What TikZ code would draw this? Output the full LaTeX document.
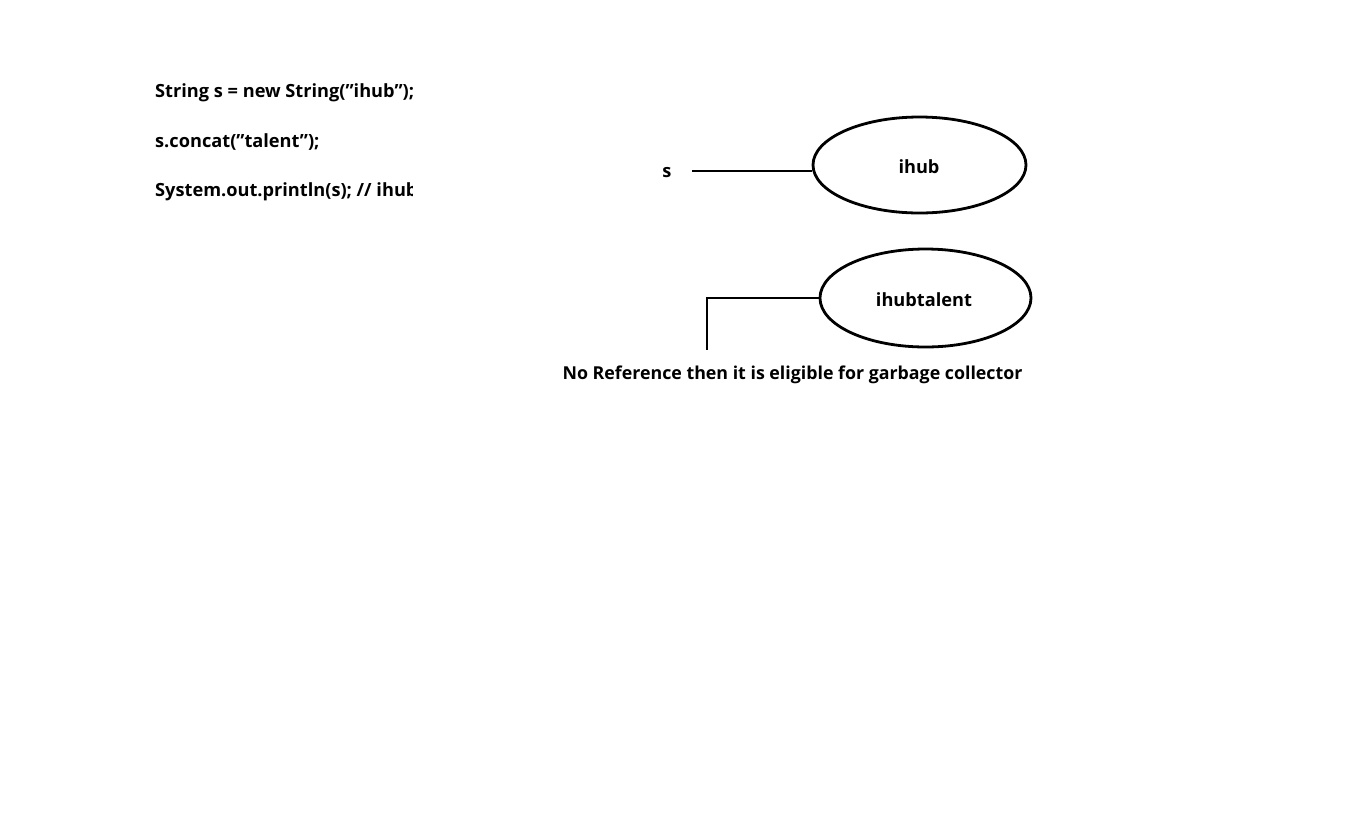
\documentclass[tikz,border=0pt]{standalone}
\usepackage{fontspec}
\setmainfont{Open Sans}
\usetikzlibrary{shapes.geometric}
\begin{document}
\begin{tikzpicture}[x=1pt,y=-1pt,
  txt/.style={font=\fontsize{18.2}{21}\selectfont\bfseries, inner sep=0pt},
  obj/.style={draw, line width=2.8pt, ellipse, inner sep=0pt},
  wire/.style={line width=2.8pt}]
\useasboundingbox[fill=white] (0,0) rectangle (1358,831);
\node[txt, anchor=west] (c1) at (155,93) {String s = new String(\symbol{34}ihub\symbol{34});};
\node[txt, anchor=west] (c2) at (155,142) {s.concat(\symbol{34}talent\symbol{34});};
\begin{scope}
\clip (150,170) rectangle (412,212);
\node[txt, anchor=west] (c3) at (155,192) {System.out.println(s); // ihub};
\end{scope}
\node[obj, minimum width=213, minimum height=96] (e1) at (919.5,165) {};
\node[txt] (t1) at (919,167) {ihub};
\node[obj, minimum width=211, minimum height=98] (e2) at (925.5,298) {};
\node[txt] (t2) at (924,300) {ihubtalent};
\node[txt] (s) at (667,173) {s};
\coordinate (sstart) at (692,171);
\draw[wire] (sstart) -- (sstart -| e1.west);
\coordinate (gc) at (707,350);
\draw[wire] (e2.west) -| (gc);
\node[txt, font=\fontsize{17.8}{21}\selectfont\bfseries] (note) at (792.5,375) {No Reference then it is eligible for garbage collector};
\end{tikzpicture}
\end{document}
